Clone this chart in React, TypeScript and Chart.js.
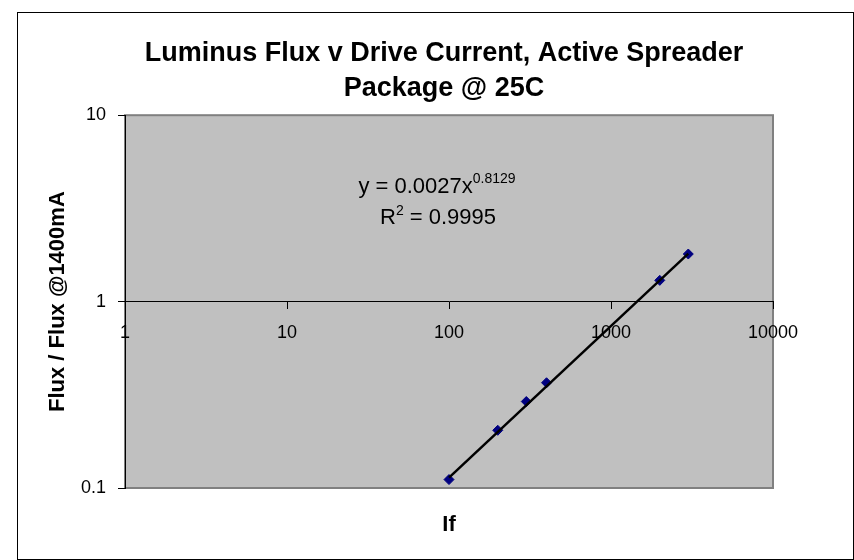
import { useEffect, useRef } from "react";
import { Chart, registerables } from "chart.js";

Chart.register(...registerables);

const TITLE = ["Luminus Flux v Drive Current, Active Spreader", "Package @ 25C"];
const X_TITLE = "If";
const Y_TITLE = "Flux / Flux @1400mA";

const driveCurrent = [100, 200, 300, 400, 2000, 3000];
const relFlux = [0.111, 0.204, 0.291, 0.367, 1.3, 1.8];

const trendX = [100, 3000];
const trendY = [0.1137, 1.81];

const xTicks = [1, 10, 100, 1000, 10000];
const yTicks = [0.1, 1, 10];

const EQ_BASE = "y = 0.0027x";
const EQ_EXP = "0.8129";
const R2_BASE = "R";
const R2_EXP = "2";
const R2_REST = " = 0.9995";

const FAMILY = "'Liberation Sans', Arial, Helvetica, sans-serif";

const framePlugin = {
  id: "frame",
  beforeDraw(chart: any) {
    const { ctx, chartArea: a } = chart;
    ctx.save();
    ctx.fillStyle = "#ffffff";
    ctx.fillRect(0, 0, chart.width, chart.height);
    ctx.strokeStyle = "#000000";
    ctx.lineWidth = 1;
    ctx.strokeRect(17.5, 12.5, 836, 547);
    ctx.fillStyle = "#c0c0c0";
    ctx.fillRect(a.left, a.top, a.right - a.left, a.bottom - a.top);
    ctx.strokeStyle = "#808080";
    ctx.lineWidth = 2;
    ctx.strokeRect(a.left, a.top, a.right - a.left, a.bottom - a.top);
    ctx.restore();
  },
};

const equationPlugin = {
  id: "equation",
  afterDraw(chart: any) {
    const { ctx, chartArea: a } = chart;
    const w = a.right - a.left;
    const h = a.bottom - a.top;
    const cx = a.left + 0.4815 * w;
    const y1 = a.top + 0.209 * h;
    const y2 = a.top + 0.2922 * h;
    const big = `22px ${FAMILY}`;
    const small = `14px ${FAMILY}`;
    ctx.save();
    ctx.fillStyle = "#000000";
    ctx.textAlign = "left";
    ctx.textBaseline = "alphabetic";
    ctx.font = big;
    const w1 = ctx.measureText(EQ_BASE).width;
    ctx.font = small;
    const w2 = ctx.measureText(EQ_EXP).width;
    let x = cx - (w1 + w2) / 2;
    ctx.font = big;
    ctx.fillText(EQ_BASE, x, y1);
    ctx.font = small;
    ctx.fillText(EQ_EXP, x + w1, y1 - 10);

    ctx.font = big;
    const r1 = ctx.measureText(R2_BASE).width;
    const r3 = ctx.measureText(R2_REST).width;
    ctx.font = small;
    const r2 = ctx.measureText(R2_EXP).width;
    x = cx + 1 - (r1 + r2 + r3) / 2;
    ctx.font = big;
    ctx.fillText(R2_BASE, x, y2);
    ctx.font = small;
    ctx.fillText(R2_EXP, x + r1, y2 - 9);
    ctx.font = big;
    ctx.fillText(R2_REST, x + r1 + r2, y2);
    ctx.restore();
  },
};

export default function App() {
  const ref = useRef<HTMLCanvasElement | null>(null);

  useEffect(() => {
    if (!ref.current) return;
    Chart.defaults.font.family = FAMILY;
    const chart = new Chart(ref.current, {
      type: "scatter",
      data: {
        datasets: [
          {
            type: "line",
            label: "Power trend",
            data: trendX.map((x, i) => ({ x, y: trendY[i] })),
            borderColor: "#000000",
            borderWidth: 2.5,
            pointRadius: 0,
            fill: false,
            showLine: true,
          } as any,
          {
            label: "Flux",
            data: driveCurrent.map((x, i) => ({ x, y: relFlux[i] })),
            pointStyle: "rectRot",
            pointRadius: 5,
            backgroundColor: "#000080",
            borderColor: "#000080",
            borderWidth: 1,
            showLine: false,
          },
        ],
      },
      options: {
        responsive: false,
        animation: false,
        events: [],
        layout: { padding: { top: 0, left: 34, right: 0, bottom: 22 } },
        plugins: {
          legend: { display: false },
          tooltip: { enabled: false },
          title: {
            display: true,
            text: TITLE,
            color: "#000000",
            font: { family: FAMILY, size: 27, weight: "bold", lineHeight: 1.3 },
            padding: { top: 36, bottom: 9 },
          },
        },
        scales: {
          x: {
            type: "logarithmic",
            position: { y: 1 } as any,
            min: 1,
            max: 10000,
            afterBuildTicks: (s: any) => {
              s.ticks = xTicks.map((v) => ({ value: v }));
            },
            ticks: {
              callback: (v: any) => String(v),
              color: "#000000",
              font: { family: FAMILY, size: 18 },
              padding: 14,
              maxRotation: 0,
              autoSkip: false,
            },
            grid: {
              display: true,
              drawOnChartArea: false,
              drawTicks: true,
              tickLength: 7,
              tickColor: "#000000",
            },
            border: { display: true, color: "#000000", width: 1 },
          },
          x2: {
            type: "logarithmic",
            position: "bottom",
            min: 1,
            max: 10000,
            display: true,
            ticks: { display: false },
            grid: { display: false },
            border: { display: false },
            title: {
              display: true,
              text: X_TITLE,
              color: "#000000",
              font: { family: FAMILY, size: 22, weight: "bold" },
              padding: { top: 23, bottom: 0 },
            },
            afterFit: (s: any) => {
              s.height = 50;
            },
          },
          y: {
            type: "logarithmic",
            position: "left",
            min: 0.1,
            max: 10,
            afterBuildTicks: (s: any) => {
              s.ticks = yTicks.map((v) => ({ value: v }));
            },
            afterFit: (s: any) => {
              s.width = 91;
            },
            ticks: {
              callback: (v: any) => String(v),
              color: "#000000",
              font: { family: FAMILY, size: 18 },
              padding: 12,
            },
            grid: {
              display: true,
              drawOnChartArea: false,
              drawTicks: true,
              tickLength: 7,
              tickColor: "#000000",
            },
            border: { display: true, color: "#000000", width: 1 },
            title: {
              display: true,
              text: Y_TITLE,
              color: "#000000",
              font: { family: FAMILY, size: 22, weight: "bold" },
              padding: { top: 10.3, bottom: 0 },
            },
          },
          y2: {
            type: "linear",
            position: "right",
            display: true,
            ticks: { display: false },
            grid: { display: false },
            border: { display: false },
            afterFit: (s: any) => {
              s.width = 81;
            },
          },
        },
      } as any,
      plugins: [framePlugin, equationPlugin],
    });
    return () => chart.destroy();
  }, []);

  return (
    <div style={{ position: "fixed", left: 0, top: 0, width: 854, height: 560 }}>
      <canvas ref={ref} width={854} height={560} style={{ display: "block", width: 854, height: 560 }} />
    </div>
  );
}
